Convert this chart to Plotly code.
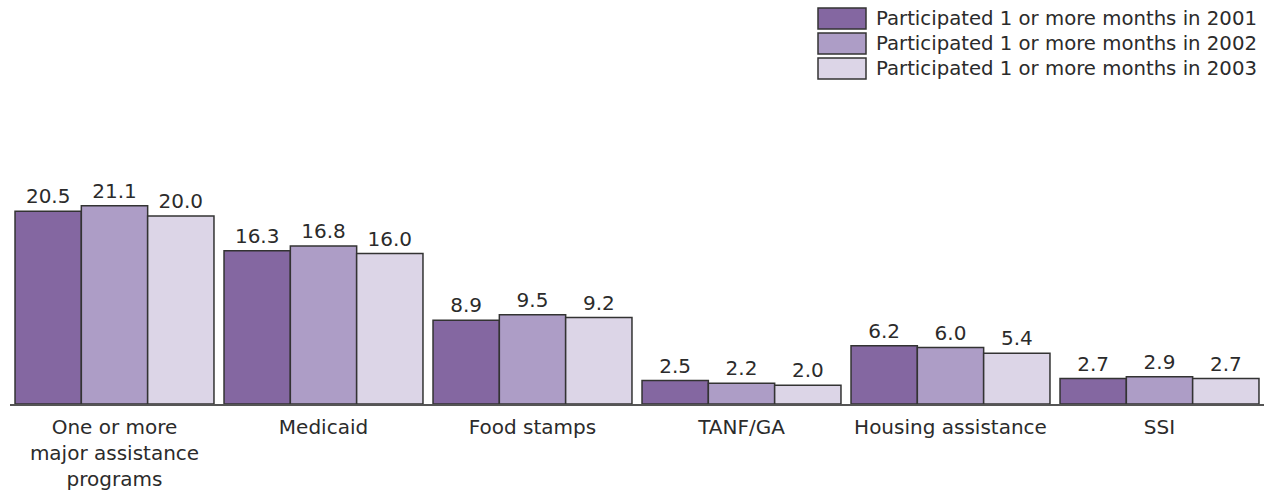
import plotly.graph_objects as go

# Share of people participating in major assistance programs, by year (percent)
categories = ["One or more<br>major assistance<br>programs", "Medicaid", "Food stamps",
              "TANF/GA", "Housing assistance", "SSI"]
years = ["2001", "2002", "2003"]
values_2001 = [20.5, 16.3, 8.9, 2.5, 6.2, 2.7]
values_2002 = [21.1, 16.8, 9.5, 2.2, 6.0, 2.9]
values_2003 = [20.0, 16.0, 9.2, 2.0, 5.4, 2.7]
series = [values_2001, values_2002, values_2003]
colors = ["#8467a1", "#ad9dc6", "#dcd5e7"]
legend_labels = [f"Participated 1 or more months in {y}" for y in years]

FONT = "DejaVu Sans"
TEXT_COLOR = "#2b2b2b"
OUTLINE = "#333333"
FS = 20

W, H = 1270, 491
ML, MR, MT, MB = 10, 6, 169, 87
PW, PH = W - ML - MR, H - MT - MB


def px_x(x):
    return (x - ML) / PW


def px_y(y):
    return (H - MB - y) / PH


fig = go.Figure()
for vals, col, name in zip(series, colors, legend_labels):
    fig.add_trace(go.Bar(
        x=categories, y=vals, name=name,
        marker=dict(color=col, line=dict(color=OUTLINE, width=1.5)),
        text=[f"{v:.1f}" for v in vals], textposition="outside",
        textfont=dict(family=FONT, size=FS, color=TEXT_COLOR),
        cliponaxis=False, showlegend=False,
    ))

# Legend drawn as large swatches with labels at the top right
for i, (col, name) in enumerate(zip(colors, legend_labels)):
    top = 8 + i * 25
    fig.add_shape(type="rect", xref="paper", yref="paper",
                  x0=px_x(818), x1=px_x(866), y0=px_y(top), y1=px_y(top + 21),
                  fillcolor=col, line=dict(color=OUTLINE, width=1.5))
    fig.add_annotation(xref="paper", yref="paper",
                       x=px_x(874), y=px_y(top + 10.5),
                       xanchor="left", yanchor="middle", text=name, showarrow=False,
                       font=dict(family=FONT, size=19.7, color=TEXT_COLOR))

fig.update_layout(
    width=W, height=H,
    margin=dict(l=ML, r=MR, t=MT, b=MB, autoexpand=False),
    paper_bgcolor="white", plot_bgcolor="white",
    barmode="group", bargap=0.048, bargroupgap=0,
    font=dict(family=FONT, size=FS, color=TEXT_COLOR),
    uniformtext=dict(minsize=FS, mode="show"),
)
fig.update_xaxes(showline=True, linecolor="#555555", linewidth=2, ticks="",
                 ticklabelstandoff=4, automargin=False,
                 tickfont=dict(family=FONT, size=FS, color=TEXT_COLOR), showgrid=False)
fig.update_yaxes(range=[0, 25], visible=False, showgrid=False, zeroline=False,
                 automargin=False)

fig.write_html("out.html")
